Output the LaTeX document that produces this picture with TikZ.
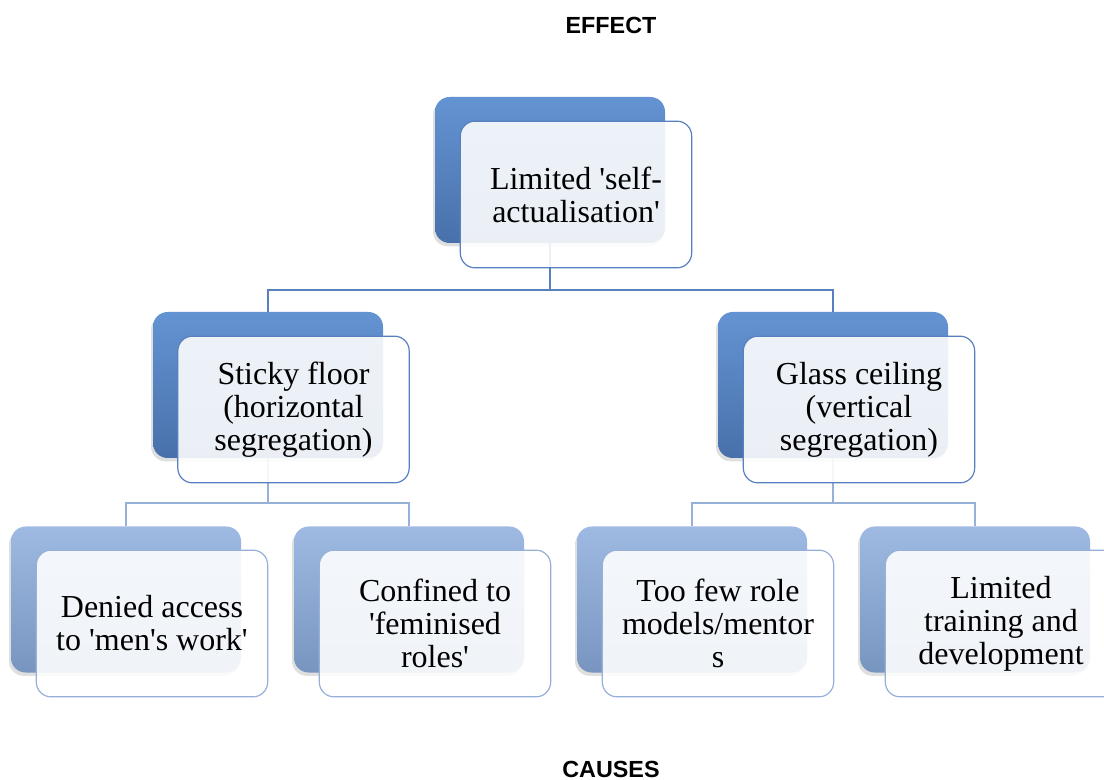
\documentclass[tikz,border=0pt]{standalone}
\usepackage{fontspec}
\setmainfont{Liberation Serif}[Ligatures=TeXOff]
\setsansfont{Liberation Sans}
\usetikzlibrary{shadows}
\definecolor{darktop}{RGB}{100,147,211}
\definecolor{darkbot}{RGB}{72,113,170}
\definecolor{lighttop}{RGB}{158,186,226}
\definecolor{lightbot}{RGB}{120,149,192}
\definecolor{darkline}{RGB}{88,128,190}
\definecolor{lightline}{RGB}{150,176,216}
\tikzset{
  back/.style={rounded corners=11pt, minimum width=172.5pt, minimum height=109.5pt,
    inner sep=0pt, top color=darktop, bottom color=darkbot,
    drop shadow={opacity=0.25, shadow xshift=-1.5pt, shadow yshift=-2.5pt}},
  backlight/.style={back, top color=lighttop, bottom color=lightbot},
  front/.style={draw=darkline, line width=0.9pt, rounded corners=11pt,
    fill=white, fill opacity=0.89, text opacity=1, inner sep=0pt,
    minimum width=173.5pt, minimum height=110pt, align=center,
    font=\fontsize{24}{24.75}\selectfont},
  frontlight/.style={front, draw=lightline},
  heading/.style={font=\sffamily\bfseries\fontsize{17.5}{20}\selectfont},
  link/.style={draw=darkline, line width=0.9pt},
  linklight/.style={draw=lightline, line width=0.9pt}
}
\begin{document}
\begin{tikzpicture}[x=0.75pt,y=-0.75pt]
  \useasboundingbox (0,0) rectangle (1104,780);
  \node[heading] (effect) at (611,25) {EFFECT};
  \node[heading] (causes) at (611,769) {CAUSES};
  % back boxes
  \node[back] (0) at (550,170) {};
  \node[back] (1) at (268,385) {};
  \node[back] (2) at (833,385) {};
  \node[backlight] (3) at (126,599.5) {};
  \node[backlight] (4) at (409,599.5) {};
  \node[backlight] (5) at (692,599.5) {};
  \node[backlight] (6) at (975,599.5) {};
  \coordinate (h0) at (0,290);
  \coordinate (h1) at (0,503);
  \begin{scope}[-]
    \draw[link] (0.south) |- (1.north |- h0) -- (1.north);
    \draw[link] (0.south) |- (2.north |- h0) -- (2.north);
    \draw[linklight] (1.south) |- (3.north |- h1) -- (3.north);
    \draw[linklight] (1.south) |- (4.north |- h1) -- (4.north);
    \draw[linklight] (2.south) |- (5.north |- h1) -- (5.north);
    \draw[linklight] (2.south) |- (6.north |- h1) -- (6.north);
  \end{scope}
  % front boxes
  \node[front] (f0) at (576,194.5) {Limited 'self-\\actualisation'};
  \node[front] (f1) at (293.5,409.5) {Sticky floor\\(horizontal\\segregation)};
  \node[front] (f2) at (859,409.5) {Glass ceiling\\(vertical\\segregation)};
  \node[frontlight] (f3) at (152,623.5) {Denied access\\to 'men's work'};
  \node[frontlight] (f4) at (435,623.5) {Confined to\\'feminised\\roles'};
  \node[frontlight] (f5) at (718,623.5) {Too few role\\models/mentor\\s};
  \node[frontlight] (f6) at (1001,623.5) {Limited\\training and\\development};
\end{tikzpicture}
\end{document}
